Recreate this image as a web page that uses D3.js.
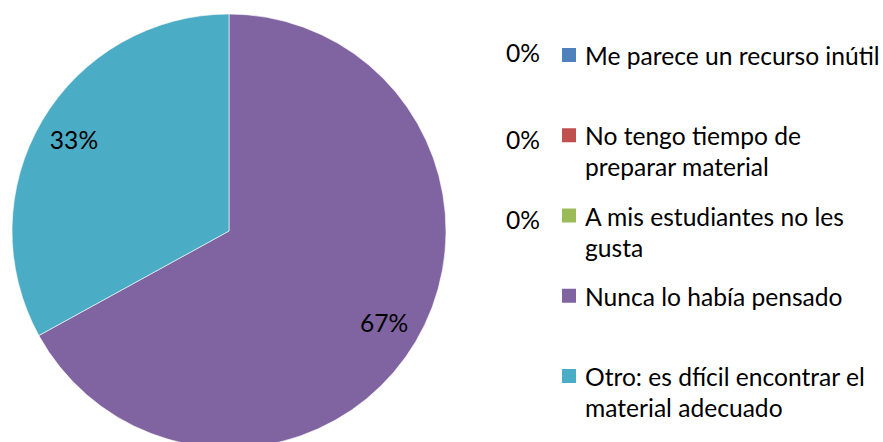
<!DOCTYPE html>
<html>
<head>
<meta charset="utf-8">
<script src="https://cdn.jsdelivr.net/npm/d3@7"></script>
<style>
  html, body { margin: 0; padding: 0; background: #fff; }
  text { font-family: Lato, "Open Sans", sans-serif; fill: #000; }
</style>
</head>
<body>
<svg id="chart" width="883" height="442"></svg>
<script>
// legend labels, "\n" marks where the legend wraps the line
const categories = [
    'Me parece un recurso inútil',
    'No tengo tiempo de\npreparar material',
    'A mis estudiantes no les\ngusta',
    'Nunca lo había pensado',
    'Otro: es dfícil encontrar el\nmaterial adecuado'
];
const shares = [0, 0, 0, 67, 33];
const colors = ['#4F81BD', '#C0504D', '#9BBB59', '#8064A2', '#4BACC6'];

const width = 883, height = 442;
const fontSize = 24.6;
const svg = d3.select('#chart');

// pie
const cx = 229, cy = 231, radius = 217;
const pie = d3.pie().sort(null).value(d => d.value);
const arcs = pie(categories.map((c, i) => ({ name: c, value: shares[i], color: colors[i] })));
const arc = d3.arc().innerRadius(0).outerRadius(radius);
const labelArc = d3.arc().innerRadius(radius * 0.83).outerRadius(radius * 0.83);

const g = svg.append('g').attr('transform', `translate(${cx},${cy})`);

g.selectAll('path')
    .data(arcs)
    .enter().append('path')
    .attr('d', arc)
    .attr('fill', d => d.data.color)
    .attr('stroke', '#fff')
    .attr('stroke-width', 0.6);

g.selectAll('.slice-label')
    .data(arcs.filter(d => d.data.value > 0))
    .enter().append('text')
    .attr('class', 'slice-label')
    .attr('transform', d => `translate(${labelArc.centroid(d)})`)
    .attr('text-anchor', 'middle')
    .attr('dominant-baseline', 'central')
    .style('font-size', fontSize + 'px')
    .text(d => d.data.value + '%');

// legend
const y = d3.scaleLinear().domain([0, categories.length - 1]).range([55, 376]);
const markerX = 562, markerSize = 14, textX = 585, lineGap = 31;

const legend = svg.append('g').attr('class', 'legend');
const rows = legend.selectAll('.row')
    .data(arcs)
    .enter().append('g')
    .attr('class', 'row')
    .attr('transform', (d, i) => `translate(0,${y(i)})`);

rows.append('rect')
    .attr('x', markerX)
    .attr('y', -markerSize / 2)
    .attr('width', markerSize)
    .attr('height', markerSize)
    .attr('fill', d => d.data.color);

rows.append('text')
    .attr('x', textX)
    .attr('dominant-baseline', 'central')
    .style('font-size', fontSize + 'px')
    .selectAll('tspan')
    .data(d => d.data.name.split('\n'))
    .enter().append('tspan')
    .attr('x', textX)
    .attr('dy', (d, i) => i === 0 ? 0 : lineGap)
    .text(d => d);

// data labels of the empty slices sit beside the legend
rows.filter(d => d.data.value === 0)
    .append('text')
    .attr('x', 523)
    .attr('y', (d, i) => i === 0 ? -3 : 4)
    .attr('text-anchor', 'middle')
    .attr('dominant-baseline', 'central')
    .style('font-size', fontSize + 'px')
    .text(d => d.data.value + '%');
</script>
</body>
</html>
